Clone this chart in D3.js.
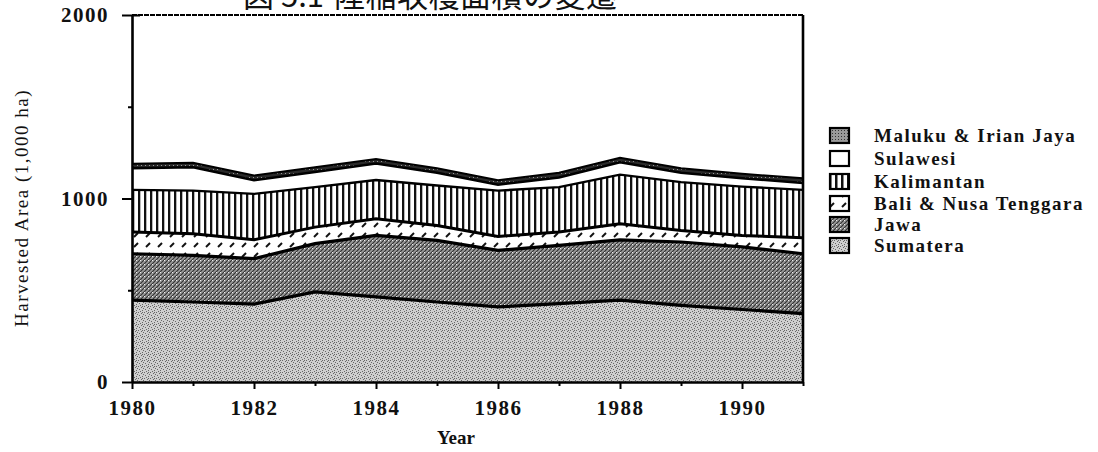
<!DOCTYPE html>
<html><head><meta charset="utf-8">
<script src="https://cdn.jsdelivr.net/npm/d3@7"></script>
<style>body{margin:0;background:#fff;} svg{display:block;}</style>
</head><body>
<svg id="c" width="1098" height="452"></svg>
<script>
// ---- data (1,000 ha) ----
const years = [1980,1981,1982,1983,1984,1985,1986,1987,1988,1989,1990,1991];
const sumatera  = [446,436,424,491,464,436,409,427,446,418,395,373];
const jawa      = [253,254,248,263,335,336,308,318,329,345,341,326];
const bali      = [118,118,103, 90, 90, 81, 76, 72, 87, 63, 63, 87];
const kalimantan= [230,235,250,218,212,218,250,245,268,263,266,261];
const sulawesi  = [118,127, 75, 83, 89, 69, 32, 53, 67, 51, 45, 38];
const maluku    = [ 25, 25, 25, 25, 25, 25, 25, 25, 25, 25, 25, 25];
const seriesNames = ["Sumatera","Jawa","Bali & Nusa Tenggara","Kalimantan","Sulawesi","Maluku & Irian Jaya"];
const seriesKeys  = ["sumatera","jawa","bali","kalimantan","sulawesi","maluku"];
const xTickMajor = [1980,1982,1984,1986,1988,1990];
const xTickMinor = [1981,1983,1985,1987,1989,1991];
const yTickMajor = [0,1000,2000];
const yTickMinor = [500,1500];
const titleFig = "図 5.1";
const titleText = "陸稲収穫面積の変遷";

const table = years.map((y,i)=>({year:y, sumatera:sumatera[i], jawa:jawa[i], bali:bali[i],
  kalimantan:kalimantan[i], sulawesi:sulawesi[i], maluku:maluku[i]}));

const svg = d3.select("#c");
const L=132, R=803, T=15, B=382;
const x = d3.scaleLinear().domain([1980,1991]).range([L,R]);
const y = d3.scaleLinear().domain([0,2000]).range([B,T]);

// ---- patterns ----
const defs = svg.append("defs");
let p = defs.append("pattern").attr("id","pSum").attr("patternUnits","userSpaceOnUse").attr("width",6).attr("height",6);
p.append("rect").attr("width",6).attr("height",6).attr("fill","#cfcfcf");
[[0,0],[3,1],[1,3],[4,4],[2,5],[5,2],[4,0]].forEach(([a,b])=>p.append("rect").attr("x",a).attr("y",b).attr("width",1).attr("height",1).attr("fill","#666"));
p = defs.append("pattern").attr("id","pJaw").attr("patternUnits","userSpaceOnUse").attr("width",4).attr("height",4);
p.append("rect").attr("width",4).attr("height",4).attr("fill","#9c9c9c");
p.append("path").attr("d","M0,4L4,0M-1,1L1,-1M3,5L5,3").attr("stroke","#333").attr("stroke-width",1.2);
p.append("rect").attr("x",0).attr("y",0).attr("width",1).attr("height",1).attr("fill","#eee");
p = defs.append("pattern").attr("id","pBal").attr("patternUnits","userSpaceOnUse").attr("width",12).attr("height",10);
p.append("rect").attr("width",12).attr("height",10).attr("fill","#fff");
p.append("path").attr("d","M2,7L6,3").attr("stroke","#111").attr("stroke-width",2);
p = defs.append("pattern").attr("id","pKal").attr("patternUnits","userSpaceOnUse").attr("width",6).attr("height",6);
p.append("rect").attr("width",6).attr("height",6).attr("fill","#fff");
p.append("rect").attr("x",0).attr("width",2.3).attr("height",6).attr("fill","#111");
p = defs.append("pattern").attr("id","pKalL").attr("patternUnits","userSpaceOnUse").attr("width",6).attr("height",6);
p.append("rect").attr("width",6).attr("height",6).attr("fill","#fff");
p.append("rect").attr("x",1).attr("width",2.5).attr("height",6).attr("fill","#111");
p = defs.append("pattern").attr("id","pMal").attr("patternUnits","userSpaceOnUse").attr("width",4).attr("height",4);
p.append("rect").attr("width",4).attr("height",4).attr("fill","#2a2a2a");
p.append("rect").attr("x",1).attr("y",1).attr("width",1).attr("height",1).attr("fill","#999");
p = defs.append("pattern").attr("id","pMalL").attr("patternUnits","userSpaceOnUse").attr("width",3).attr("height",3);
p.append("rect").attr("width",3).attr("height",3).attr("fill","#9a9a9a");
p.append("rect").attr("x",1).attr("y",1).attr("width",1).attr("height",1).attr("fill","#333");

const fills = {sumatera:"url(#pSum)", jawa:"url(#pJaw)", bali:"url(#pBal)", kalimantan:"url(#pKal)", sulawesi:"#fff", maluku:"url(#pMal)"};
const legendFills = {sumatera:"url(#pSum)", jawa:"url(#pJaw)", bali:"url(#pBal)", kalimantan:"url(#pKalL)", sulawesi:"#fff", maluku:"url(#pMalL)"};
const strokeW = {sumatera:3.2, jawa:3.2, bali:3, kalimantan:2.4, sulawesi:2.5, maluku:2};

const layers = d3.stack().keys(seriesKeys)(table);
const area = d3.area().x(d=>x(d.data.year)).y0(d=>y(d[0])).y1(d=>y(d[1]));
const topLine = d3.line().x(d=>x(d.data.year)).y(d=>y(d[1]));

svg.append("g").selectAll("path").data(layers).join("path")
  .attr("d",area).attr("fill",d=>fills[d.key]).attr("stroke","none");
svg.append("g").selectAll("path").data(layers).join("path")
  .attr("d",topLine).attr("fill","none").attr("stroke","#000").attr("stroke-width",d=>strokeW[d.key]);

// ---- frame ----
svg.append("line").attr("x1",L).attr("x2",R).attr("y1",T).attr("y2",T).attr("stroke","#000").attr("stroke-width",1.8).attr("stroke-dasharray","5,1");
svg.append("line").attr("x1",R).attr("x2",R).attr("y1",T).attr("y2",B).attr("stroke","#000").attr("stroke-width",2.6);

// ---- axes ----
const serif = "'Liberation Serif','DejaVu Serif',serif";
const xAxis = svg.append("g").attr("transform",`translate(0,${B})`)
  .call(d3.axisBottom(x).tickValues(xTickMajor).tickSize(7).tickSizeOuter(0).tickFormat(d3.format("d")).tickPadding(11));
svg.append("g").attr("transform",`translate(0,${B})`)
  .call(d3.axisBottom(x).tickValues(xTickMinor).tickSize(4).tickSizeOuter(0).tickFormat(""))
  .call(g=>g.select(".domain").remove());
const yAxis = svg.append("g").attr("transform",`translate(${L},0)`)
  .call(d3.axisLeft(y).tickValues(yTickMajor).tickSize(10).tickSizeOuter(0).tickFormat(d3.format("d")).tickPadding(13));
svg.append("g").attr("transform",`translate(${L},0)`)
  .call(d3.axisLeft(y).tickValues(yTickMinor).tickSize(4).tickSizeOuter(0).tickFormat(""))
  .call(g=>g.select(".domain").remove());
svg.selectAll(".domain").attr("stroke","#000").attr("stroke-width",2.6);
svg.selectAll(".tick line").attr("stroke","#000").attr("stroke-width",2);
svg.selectAll(".tick text").attr("font-family",serif).attr("font-size",21).attr("font-weight","bold")
  .attr("letter-spacing","1.5px").attr("fill","#111");
xAxis.selectAll(".tick text").attr("dy","0.71em");
yAxis.selectAll(".tick").filter(d=>d===2000).append("line").attr("x1",0).attr("x2",8).attr("stroke","#000").attr("stroke-width",2);

// ---- labels ----
svg.append("text").attr("x",456).attr("y",444).attr("text-anchor","middle")
  .attr("font-family",serif).attr("font-size",19).attr("font-weight","bold").attr("fill","#111").text("Year");
svg.append("text").attr("transform",`translate(28,208) rotate(-90)`).attr("text-anchor","middle")
  .attr("font-family",serif).attr("font-size",19).attr("letter-spacing","1.5px").attr("fill","#111")
  .text("Harvested Area (1,000 ha)");
const tt = svg.append("text").attr("y",7).attr("font-family","'Noto Sans CJK JP',sans-serif")
  .attr("font-size",31).attr("fill","#111");
tt.append("tspan").attr("x",243).text(titleFig);
tt.append("tspan").attr("x",334).attr("letter-spacing","0.5px").text(titleText);

// ---- legend ----
const legendRows = [
  {key:"maluku", name:seriesNames[5], y:128},
  {key:"sulawesi", name:seriesNames[4], y:151},
  {key:"kalimantan", name:seriesNames[3], y:174},
  {key:"bali", name:seriesNames[2], y:196},
  {key:"jawa", name:seriesNames[1], y:217},
  {key:"sumatera", name:seriesNames[0], y:238}
];
const lg = svg.append("g");
legendRows.forEach(r=>{
  lg.append("rect").attr("x",830).attr("y",r.y).attr("width",19).attr("height",15)
    .attr("fill",legendFills[r.key]).attr("stroke","#000").attr("stroke-width",2.2);
  lg.append("text").attr("x",874).attr("y",r.y+14).attr("font-family",serif).attr("font-size",19)
    .attr("font-weight","bold").attr("letter-spacing","1.5px").attr("fill","#111").text(r.name);
});
</script>
</body></html>
